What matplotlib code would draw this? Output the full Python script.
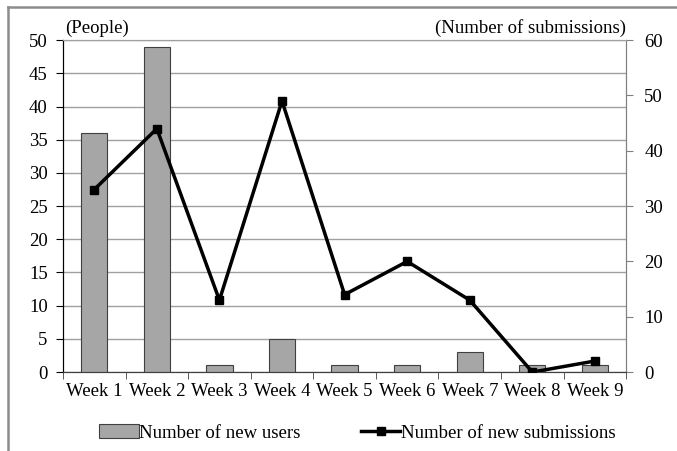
import numpy as np
import matplotlib
matplotlib.use("Agg")
from matplotlib import pyplot as plt
from matplotlib.lines import Line2D

# Data
weeks = ["Week 1", "Week 2", "Week 3", "Week 4", "Week 5",
         "Week 6", "Week 7", "Week 8", "Week 9"]
new_users = [36, 49, 1, 5, 1, 1, 3, 1, 1]
new_submissions = [33, 44, 13, 49, 14, 20, 13, 0, 2]

plt.rcParams["font.family"] = ["Liberation Serif", "DejaVu Serif"]
plt.rcParams["font.size"] = 13.5

fig = plt.figure(figsize=(6.77, 4.51), dpi=100)
ax = fig.add_axes([0.093, 0.175, 0.832, 0.736])
ax2 = ax.twinx()

x = np.arange(len(weeks))

# Bars (left axis)
ax.bar(x, new_users, width=0.42, color="#a6a6a6", edgecolor="#404040",
       linewidth=0.8, label="Number of new users", zorder=3)
ax.set_xlim(-0.5, len(weeks) - 0.5)
ax.set_ylim(0, 50)
ax.set_yticks(np.arange(0, 51, 5))
ax.grid(axis="y", color="#a0a0a0", linewidth=1.0, zorder=0)
ax.set_axisbelow(True)

# Line (right axis)
ax2.plot(x, new_submissions, color="black", linewidth=2.5, marker="s",
         markersize=6, label="Number of new submissions", zorder=4)
ax2.set_ylim(0, 60)
ax2.set_yticks(np.arange(0, 61, 10))

# x ticks at category boundaries
ax.set_xticks(x)
ax.set_xticklabels(weeks)
ax.tick_params(axis="x", which="major", length=0, pad=8)
ax.set_xticks(np.arange(-0.5, len(weeks), 1), minor=True)
ax.tick_params(axis="x", which="minor", length=5, direction="out", color="#404040")
ax.tick_params(axis="y", length=5, direction="out", pad=6)
ax2.tick_params(axis="y", length=5, direction="out", pad=8, color="#808080")

for a in (ax, ax2):
    a.spines["top"].set_color("#a0a0a0")
    a.spines["right"].set_color("#808080")
    a.spines["left"].set_color("black")
    a.spines["bottom"].set_color("#404040")

# Axis unit labels
ax.text(0.003, 1.008, "(People)", transform=ax.transAxes, ha="left", va="bottom")
ax.text(1.0, 1.008, "(Number of submissions)", transform=ax.transAxes,
        ha="right", va="bottom")

# Legend
h1, l1 = ax.get_legend_handles_labels()
h2, l2 = ax2.get_legend_handles_labels()
fig.legend(h1 + h2, l1 + l2, loc="center", bbox_to_anchor=(0.528, 0.04),
           ncol=2, frameon=False, handlelength=2.1, handletextpad=0.05,
           columnspacing=3.2, fontsize=13.5)

# Outer frame (top and left only, as in the reference)
fig.add_artist(Line2D([0.012, 1.0], [0.985, 0.985], transform=fig.transFigure,
                      color="#8c8c8c", linewidth=1.8))
fig.add_artist(Line2D([0.012, 0.012], [0.0, 0.985], transform=fig.transFigure,
                      color="#8c8c8c", linewidth=1.8))

plt.savefig("out.png", dpi=100)
